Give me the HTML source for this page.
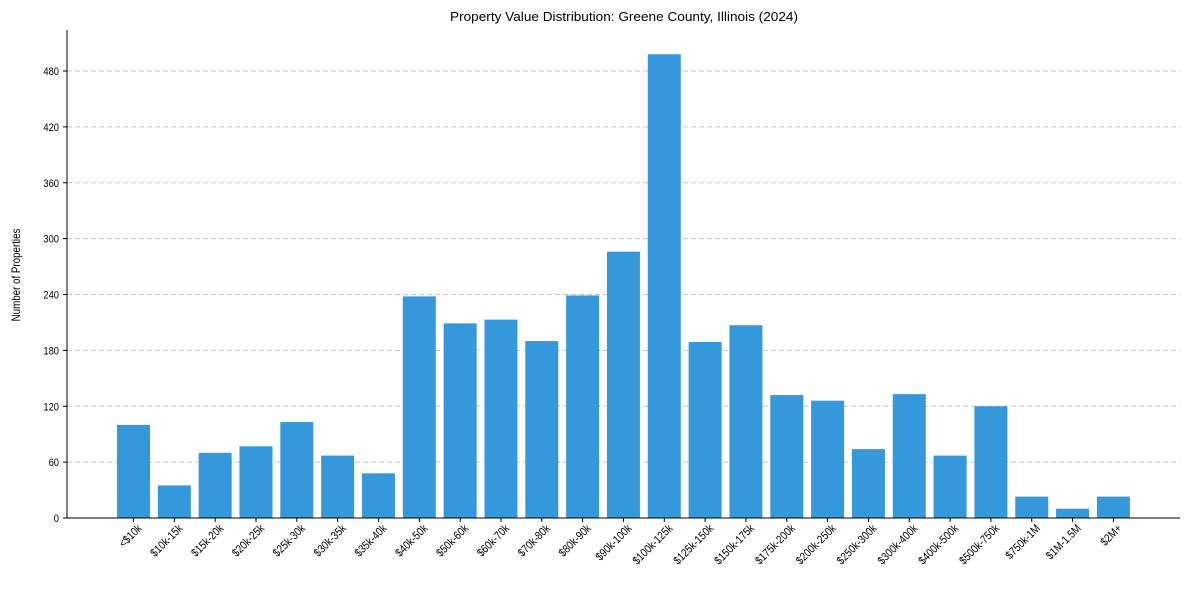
<!DOCTYPE html>
<html><head><meta charset="utf-8"><style>
body{margin:0;background:#fff;width:1189px;height:590px;overflow:hidden}
svg text{font-family:"Liberation Sans",Arial,sans-serif;fill:#000}
</style></head><body>
<svg id="chart" width="1189" height="590">
<text x="624" y="21" font-size="13" text-anchor="middle" textLength="348" lengthAdjust="spacingAndGlyphs">Property Value Distribution: Greene County, Illinois (2024)</text>
<text transform="translate(20,275) rotate(-90) scale(0.85,1)" font-size="11.5" text-anchor="middle">Number of Properties</text>
<g id="grid"></g><g id="bars"></g><g id="axes"></g>
</svg>
<script>
const categories=["<$10k","$10k-15k","$15k-20k","$20k-25k","$25k-30k","$30k-35k","$35k-40k","$40k-50k","$50k-60k","$60k-70k","$70k-80k","$80k-90k","$90k-100k","$100k-125k","$125k-150k","$150k-175k","$175k-200k","$200k-250k","$250k-300k","$300k-400k","$400k-500k","$500k-750k","$750k-1M","$1M-1.5M","$2M+"];
const values=[100,35,70,77,103,67,48,238,209,213,190,239,286,498,189,207,132,126,74,133,67,120,23,10,23];
const yTicks=[0,60,120,180,240,300,360,420,480];
const NS="http://www.w3.org/2000/svg";
const y=v=>518-v*(447/480);
const x=i=>133.5+i*40.83;
const bw=33;
function mk(t,a,p){const e=document.createElementNS(NS,t);for(const k in a)e.setAttribute(k,a[k]);p.appendChild(e);return e;}
const grid=document.getElementById('grid'),bars=document.getElementById('bars'),axes=document.getElementById('axes');
yTicks.forEach(t=>{
  if(t>0){const g=mk('line',{x1:67,x2:1180,y1:y(t),y2:y(t),stroke:'#c4c4c4','stroke-dasharray':'5,3','stroke-width':0.9},grid);
  
  }
  const tk=mk('line',{x1:63,x2:67,y1:y(t),y2:y(t),stroke:'#000'},axes);
  
  
  const l=mk('text',{transform:`translate(59,${y(t)+4}) scale(0.85,1)`,'font-size':11,'text-anchor':'end'},axes);l.textContent=t;
  
  
});
categories.forEach((c,i)=>{
  const r=mk('rect',{x:x(i)-bw/2,y:y(values[i]),width:bw,height:518-y(values[i]),fill:'#3498db'},bars);
  
  
  const tk=mk('line',{x1:x(i),x2:x(i),y1:518,y2:522,stroke:'#000'},axes);
  
  
  const l=mk('text',{transform:`translate(${x(i)+9},529) rotate(-45) scale(0.85,1)`,'font-size':11.5,'text-anchor':'end'},axes);l.textContent=c;
  
  
});
const ax1=mk('line',{x1:67,x2:67,y1:30,y2:518,stroke:'#000','stroke-width':1},axes);


const ax2=mk('line',{x1:67,x2:1180,y1:518,y2:518,stroke:'#000','stroke-width':1},axes);


</script>
</body></html>
